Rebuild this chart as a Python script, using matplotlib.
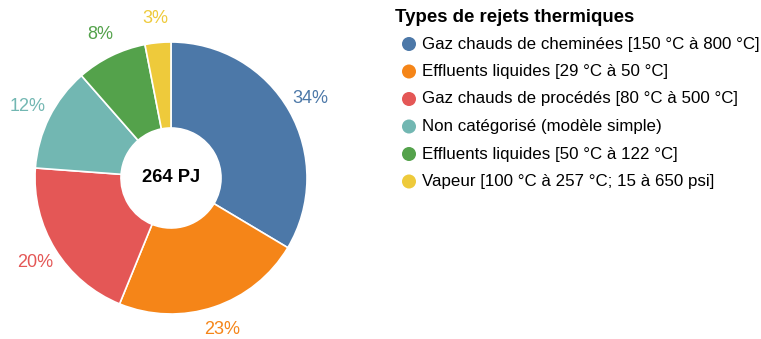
import numpy as np
import matplotlib.pyplot as plt

plt.rcParams['font.family'] = ['Liberation Sans', 'DejaVu Sans']

# Thermal waste heat by type (PJ)
categories = [
    "Gaz chauds de cheminées [150 °C à 800 °C]",
    "Effluents liquides [29 °C à 50 °C]",
    "Gaz chauds de procédés [80 °C à 500 °C]",
    "Non catégorisé (modèle simple)",
    "Effluents liquides [50 °C à 122 °C]",
    "Vapeur [100 °C à 257 °C; 15 à 650 psi]",
]
values = [88.6, 59.7, 52.8, 32.7, 22.1, 8.1]
colors = ["#4c78a8", "#f58518", "#e45756", "#72b7b2", "#54a24b", "#eeca3b"]
legend_title = "Types de rejets thermiques"

W, H = 761, 339
fig = plt.figure(figsize=(W / 100, H / 100), dpi=100)
ax = fig.add_axes([0, 0, 1, 1])

cx, cy = 171, H - 178
r_out, r_in = 136, 50
total = sum(values)

wedges, _ = ax.pie(
    values, colors=colors, center=(cx, cy), radius=r_out,
    startangle=90, counterclock=False,
    wedgeprops=dict(width=r_out - r_in, edgecolor='white', linewidth=1.2),
    frame=True,
)
ax.set_xlim(0, W)
ax.set_ylim(0, H)
ax.set_aspect('equal')
ax.axis('off')

# percentage labels around the ring
for w, v, c in zip(wedges, values, colors):
    mid = np.deg2rad((w.theta1 + w.theta2) / 2)
    lx = cx + 160 * np.cos(mid)
    ly = cy + 160 * np.sin(mid)
    ax.text(lx, ly, f"{round(100 * v / total)}%", color=c, fontsize=13,
            ha='center', va='center')

ax.text(cx, cy, f"{round(total)} PJ", fontsize=13.2, fontweight='bold',
        ha='center', va='center', color='black')

# legend
ax.text(395, H - 17, legend_title, fontsize=13.4, fontweight='bold',
        ha='left', va='center')
for i, (lab, c) in enumerate(zip(categories, colors)):
    y = H - (44 + i * 27.5)
    ax.scatter([409], [y], s=102, color=c, edgecolors='none')
    ax.text(422, y, lab, fontsize=12.2, ha='left', va='center')

fig.savefig("out.png", dpi=100)
